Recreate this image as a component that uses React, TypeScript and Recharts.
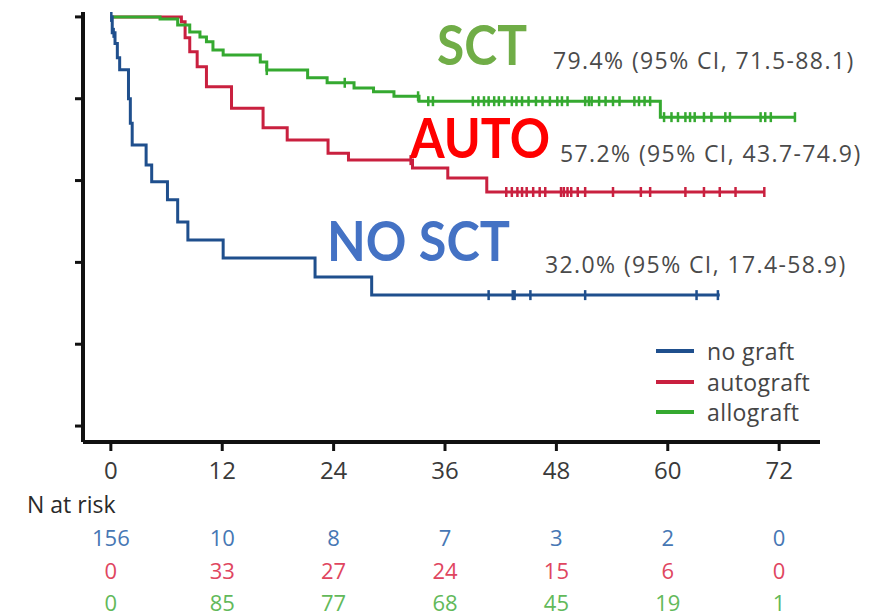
import { ComposedChart, Line, Scatter, XAxis, YAxis, Legend } from "recharts";

type Step = [number, number];

// follow-up months on the x axis
const monthTicks = [0, 12, 24, 36, 48, 60, 72];
const survivalTicks = [0, 0.2, 0.4, 0.6, 0.8, 1];

// 3-year estimates with their confidence limits (no graft, autograft, allograft)
const groupNames = ["no graft", "autograft", "allograft"];
const estimates = [0.32, 0.572, 0.794];
const ciLow = [17.4, 43.7, 71.5];
const ciHigh = [58.9, 74.9, 88.1];

// Kaplan-Meier steps as [month, survival]
const noGraftSteps: Step[] = [
  [0, 1], [0.15, 0.961], [0.45, 0.935], [0.7, 0.9], [0.95, 0.871], [1.9, 0.8],
  [2.1, 0.74], [2.3, 0.687], [3.8, 0.638], [4.4, 0.597], [6.1, 0.553], [7.2, 0.499],
  [8.3, 0.455], [12.1, 0.411], [22.0, 0.364], [28.1, estimates[0]], [65.6, estimates[0]],
];
const autograftSteps: Step[] = [
  [0, 1], [7.6, 0.988], [8.0, 0.949], [8.5, 0.915], [9.3, 0.878], [10.3, 0.829],
  [13.0, 0.777], [16.4, 0.729], [19.0, 0.699], [23.4, 0.667], [25.6, 0.65],
  [32.5, 0.631], [36.3, 0.606], [40.5, estimates[1]], [70.4, estimates[1]],
];
const allograftSteps: Step[] = [
  [0, 1], [5.3, 0.995], [7.2, 0.98], [8.5, 0.963], [9.6, 0.951], [10.3, 0.939],
  [11.0, 0.919], [12.1, 0.907], [16.1, 0.89], [16.8, 0.87], [21.2, 0.851],
  [23.3, 0.839], [26.2, 0.826], [28.3, 0.817], [30.5, 0.806], [33.2, estimates[2]],
  [59.2, 0.755], [73.7, 0.755],
];

// censoring times (months)
const noGraftCensored = [0.05, 0.3, 40.7, 43.3, 43.5, 45.2, 51.1, 63.1, 65.4];
const autograftCensored = [
  32.3, 42.6, 43.2, 43.8, 44.3, 44.8, 45.5, 46.2, 46.8, 48.5, 48.8, 49.2, 49.6,
  50.3, 51.1, 54.1, 57.1, 58.1, 61.9, 63.9, 65.6, 67.3, 70.4,
];
const allograftCensored = [
  16.8, 25.2, 33.1, 34.2, 34.7, 39.0, 39.6, 40.2, 40.7, 41.3, 41.8, 42.4, 43.2,
  43.7, 44.3, 45.0, 45.8, 46.5, 47.3, 48.1, 48.6, 49.2, 51.1, 51.5, 51.8, 52.6,
  53.3, 54.1, 54.8, 56.4, 56.9, 57.5, 58.1, 59.6, 60.4, 61.1, 61.9, 62.4, 62.9,
  63.9, 64.7, 66.2, 66.7, 70.0, 70.5, 71.1, 73.7,
];

// numbers at risk at each month tick
const riskNoGraft = [156, 10, 8, 7, 3, 2, 0];
const riskAutograft = [0, 33, 27, 24, 15, 6, 0];
const riskAllograft = [0, 85, 77, 68, 45, 19, 1];

const lineColors = ["#1f4f8d", "#c9203f", "#35a930"];
const riskColors = ["#4677b4", "#e0465f", "#62b95a"];
const FONT = "'Open Sans', sans-serif";

const toPoints = (steps: Step[]) => steps.map(([t, s]) => ({ t, s }));

function survivalAt(steps: Step[], t: number): number {
  let s = steps[0][1];
  for (const [tt, ss] of steps) {
    if (tt <= t) s = ss;
  }
  return s;
}

const censorPoints = (steps: Step[], times: number[]) =>
  times.map((t) => ({ t, s: survivalAt(steps, t) }));

const censorShape = (color: string) => (props: any) => {
  const { cx, cy } = props;
  return <line x1={cx} x2={cx} y1={cy - 5} y2={cy + 5} stroke={color} strokeWidth={2.5} />;
};

const riskFormatter = (row: number[]) => (v: number) => {
  const i = monthTicks.indexOf(v);
  return i >= 0 ? String(row[i]) : "";
};

function GroupLegend() {
  return (
    <div style={{ fontFamily: FONT, fontSize: 23, color: "#454545", letterSpacing: 0.4 }}>
      {groupNames.map((name, i) => (
        <div key={name} style={{ display: "flex", alignItems: "center", height: 30.5 }}>
          <span style={{ width: 38, height: 4, background: lineColors[i], marginRight: 13 }} />
          <span style={{ lineHeight: "30px" }}>{name}</span>
        </div>
      ))}
    </div>
  );
}

const ciLabel = (i: number) =>
  `${(estimates[i] * 100).toFixed(1)}% (95% CI, ${ciLow[i]}-${ciHigh[i]})`;

export default function App() {
  const series = [
    { steps: autograftSteps, censored: autograftCensored, color: lineColors[1], key: "auto" },
    { steps: allograftSteps, censored: allograftCensored, color: lineColors[2], key: "allo" },
    { steps: noGraftSteps, censored: noGraftCensored, color: lineColors[0], key: "none" },
  ];
  const riskRows = [riskNoGraft, riskAutograft, riskAllograft];
  const riskHeights = [33, 32, 23];

  return (
    <div style={{ position: "relative", width: 889, height: 616, background: "#fff" }}>
      <style>{`body { margin: 0; }`}</style>
      <ComposedChart width={889} height={616} margin={{ top: 12, right: 69, left: 63, bottom: 0 }}>
        <XAxis
          dataKey="t"
          type="number"
          domain={[-3, 76.4]}
          allowDataOverflow
          ticks={monthTicks}
          height={86}
          tickSize={9}
          tickMargin={11}
          axisLine={{ stroke: "#111", strokeWidth: 4 }}
          tickLine={{ stroke: "#111", strokeWidth: 3 }}
          tick={{ fill: "#3a3a3a", fontSize: 24, fontFamily: FONT }}
        />
        {riskRows.map((row, i) => (
          <XAxis
            key={`risk${i}`}
            xAxisId={`risk${i}`}
            dataKey="t"
            type="number"
            domain={[-3, 76.4]}
            allowDataOverflow
            ticks={monthTicks}
            height={riskHeights[i]}
            tickSize={0}
            tickMargin={2}
            axisLine={false}
            tickLine={false}
            tickFormatter={riskFormatter(row)}
            tick={{ fill: riskColors[i], fontSize: 22, fontFamily: FONT }}
          />
        ))}
        <YAxis
          dataKey="s"
          type="number"
          domain={[-0.039, 1.012]}
          allowDataOverflow
          ticks={survivalTicks}
          width={20}
          tickSize={8}
          tickFormatter={() => ""}
          axisLine={{ stroke: "#111", strokeWidth: 4 }}
          tickLine={{ stroke: "#111", strokeWidth: 3 }}
        />
        <Legend
          layout="horizontal"
          verticalAlign="middle"
          align="center"
          wrapperStyle={{ position: "absolute", left: 656, top: 336, width: 220, right: "auto" }}
          content={() => <GroupLegend />}
        />
        {series.map((g) => (
          <Line
            key={g.key}
            data={toPoints(g.steps)}
            dataKey="s"
            type="stepAfter"
            stroke={g.color}
            strokeWidth={3}
            dot={false}
            legendType="none"
            isAnimationActive={false}
          />
        ))}
        {series.map((g) => (
          <Scatter
            key={`${g.key}-c`}
            data={censorPoints(g.steps, g.censored)}
            dataKey="s"
            shape={censorShape(g.color)}
            legendType="none"
            isAnimationActive={false}
          />
        ))}
      </ComposedChart>
      <svg
        width={889}
        height={616}
        style={{ position: "absolute", left: 0, top: 0, pointerEvents: "none" }}
      >
        {/* group captions, squeezed to a narrow bold face */}
        <g fontFamily="Lato, sans-serif" fontWeight={700} fontSize={56} lengthAdjust="spacingAndGlyphs">
          <text x={437} y={65} fill="#70ad47" textLength={90} lengthAdjust="spacingAndGlyphs">SCT</text>
          <text x={410} y={158} fill="#ff0000" textLength={140} lengthAdjust="spacingAndGlyphs">AUTO</text>
          <text x={327} y={261} fill="#4472c4" textLength={183} lengthAdjust="spacingAndGlyphs">NO SCT</text>
        </g>
        <g fontFamily={FONT} fontSize={23} fill="#4a4a4a" letterSpacing={1.4}>
          <text x={553} y={69}>{ciLabel(2)}</text>
          <text x={560} y={162}>{ciLabel(1)}</text>
          <text x={545} y={273}>{ciLabel(0)}</text>
        </g>
        <text x={27} y={513} fontFamily={FONT} fontSize={23} fill="#2a2a2a">
          N at risk
        </text>
      </svg>
    </div>
  );
}
